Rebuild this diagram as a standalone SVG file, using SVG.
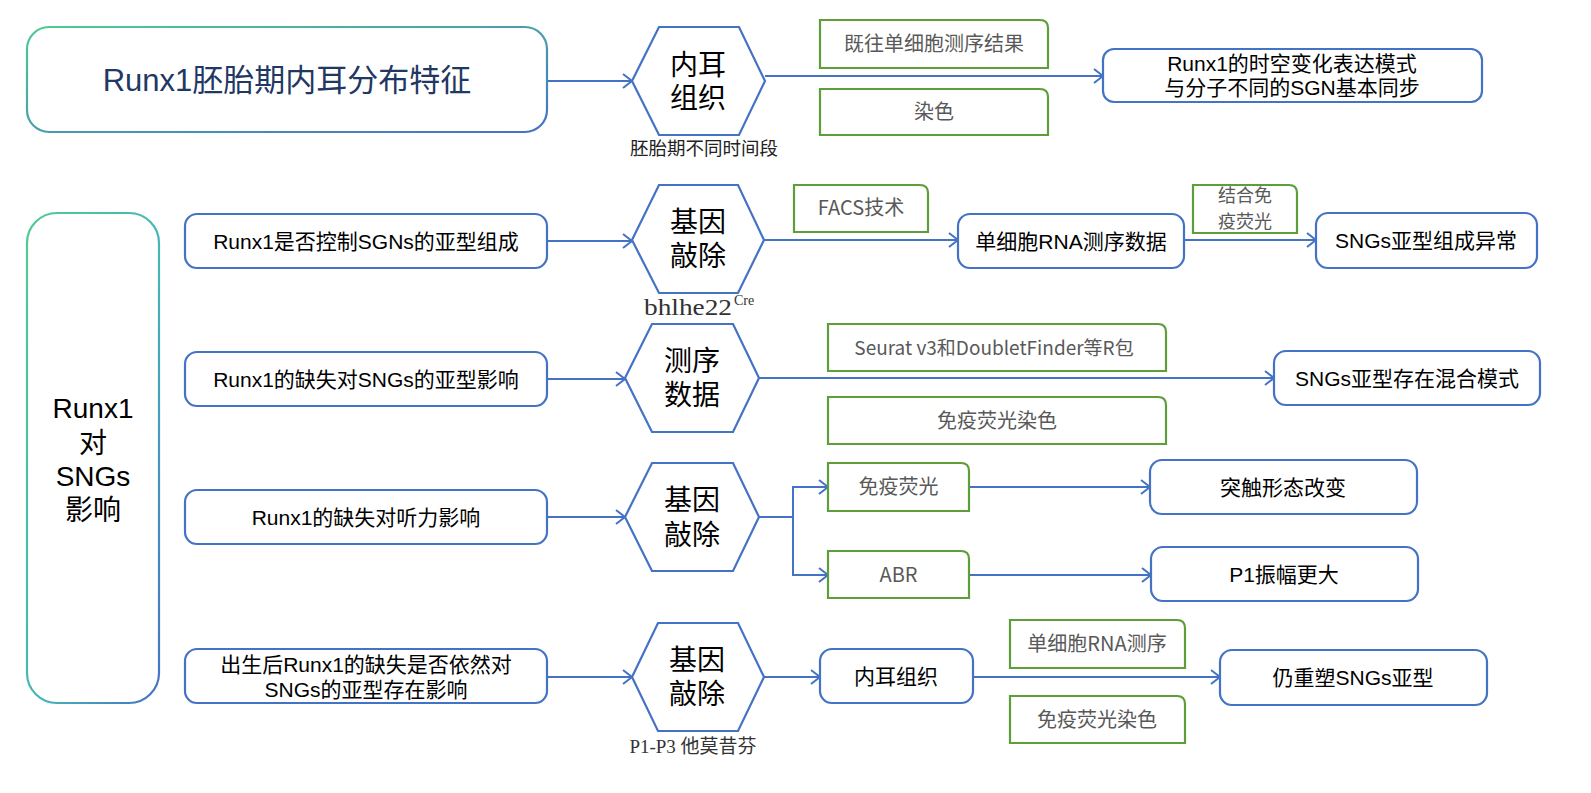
<svg xmlns="http://www.w3.org/2000/svg" width="1591" height="793" viewBox="0 0 1591 793">
<defs>
<linearGradient id="gTitle" x1="0" y1="0" x2="1" y2="1">
<stop offset="0" stop-color="#4FCB92"/>
<stop offset="1" stop-color="#4472C4"/>
</linearGradient>
<linearGradient id="gLeft" x1="0" y1="0" x2="1" y2="1">
<stop offset="0" stop-color="#4FCB92"/>
<stop offset="0.55" stop-color="#47B5B8"/>
<stop offset="1" stop-color="#4472C4"/>
</linearGradient>
<marker id="arr" markerUnits="userSpaceOnUse" markerWidth="14" markerHeight="18" refX="11" refY="9" orient="auto">
<path d="M2,2 L11,9 L2,16" fill="none" stroke="#4472C4" stroke-width="2"/>
</marker>
<style>
.blue{fill:#fff;stroke:#4472C4;stroke-width:2.2}
.green{fill:#fff;stroke:#5E9E3A;stroke-width:2.2}
.hex{fill:#fff;stroke:#4472C4;stroke-width:2.2}
.con{fill:none;stroke:#4472C4;stroke-width:2}
.t{font-family:"Liberation Sans","Noto Sans CJK SC",sans-serif;fill:#000;text-anchor:middle}
.tb{font-size:21px}
.th{font-size:28px}
.tg{font-family:"Noto Sans CJK SC",sans-serif;font-size:20px;fill:#595959;text-anchor:middle}
.ts{font-family:"Liberation Serif","Noto Sans CJK SC",serif;fill:#333;text-anchor:middle}
</style>
</defs>

<g id="connectors">
<line class="con" x1="547" y1="81" x2="632" y2="81" marker-end="url(#arr)"/>
<line class="con" x1="765" y1="76" x2="1103" y2="76" marker-end="url(#arr)"/>
<line class="con" x1="547" y1="241" x2="632" y2="241" marker-end="url(#arr)"/>
<line class="con" x1="547" y1="379" x2="625" y2="379" marker-end="url(#arr)"/>
<line class="con" x1="547" y1="517" x2="625" y2="517" marker-end="url(#arr)"/>
<line class="con" x1="547" y1="677" x2="632" y2="677" marker-end="url(#arr)"/>
<line class="con" x1="764" y1="240" x2="958" y2="240" marker-end="url(#arr)"/>
<line class="con" x1="1184" y1="240" x2="1316" y2="240" marker-end="url(#arr)"/>
<line class="con" x1="759" y1="378" x2="1274" y2="378" marker-end="url(#arr)"/>
<polyline class="con" points="759,517 793,517"/>
<polyline class="con" points="828,487 793,487 793,575 828,575"/>
<line class="con" x1="793" y1="487" x2="828" y2="487" marker-end="url(#arr)"/>
<line class="con" x1="793" y1="575" x2="828" y2="575" marker-end="url(#arr)"/>
<line class="con" x1="969" y1="487" x2="1150" y2="487" marker-end="url(#arr)"/>
<line class="con" x1="969" y1="575" x2="1151" y2="575" marker-end="url(#arr)"/>
<line class="con" x1="764" y1="677" x2="820" y2="677" marker-end="url(#arr)"/>
<line class="con" x1="973" y1="677" x2="1220" y2="677" marker-end="url(#arr)"/>
</g>

<g id="title">
<rect x="27" y="27" width="520" height="105" rx="22" fill="#fff" stroke="url(#gTitle)" stroke-width="2.2"/>
<text class="t" x="287" y="91" style="font-size:31px;fill:#1F3864">Runx1胚胎期内耳分布特征</text>
</g>

<g id="hex-ear">
<polygon class="hex" points="632,81 659,27 739,27 765,81 739,135 659,135"/>
<text class="t th" x="698" y="75">内耳</text>
<text class="t th" x="698" y="108">组织</text>
<text class="t" x="704" y="155" style="font-size:18.5px;fill:#222">胚胎期不同时间段</text>
</g>

<g id="g-prev">
<path class="green" d="M820,20 H1040 Q1048,20 1048,28 V68 H820 Z"/>
<text class="tg" x="934" y="51">既往单细胞测序结果</text>
</g>
<g id="g-stain">
<path class="green" d="M820,89 H1040 Q1048,89 1048,97 V135 H820 Z"/>
<text class="tg" x="934" y="119">染色</text>
</g>

<g id="res-top">
<rect class="blue" x="1103" y="49" width="379" height="53" rx="11"/>
<text class="t tb" x="1292" y="71">Runx1的时空变化表达模式</text>
<text class="t tb" x="1292" y="95">与分子不同的SGN基本同步</text>
</g>

<g id="left-box">
<rect x="27" y="213" width="132" height="490" rx="30" fill="#fff" stroke="url(#gLeft)" stroke-width="2.2"/>
<text class="t th" x="93" y="418">Runx1</text>
<text class="t th" x="93" y="453">对</text>
<text class="t th" x="93" y="486">SNGs</text>
<text class="t th" x="93" y="520">影响</text>
</g>

<g id="q1">
<rect class="blue" x="185" y="214" width="362" height="54" rx="12"/>
<text class="t tb" x="366" y="248.5">Runx1是否控制SGNs的亚型组成</text>
</g>
<g id="q2">
<rect class="blue" x="185" y="352" width="362" height="54" rx="12"/>
<text class="t tb" x="366" y="386.5">Runx1的缺失对SNGs的亚型影响</text>
</g>
<g id="q3">
<rect class="blue" x="185" y="490" width="362" height="54" rx="12"/>
<text class="t tb" x="366" y="524.5">Runx1的缺失对听力影响</text>
</g>
<g id="q4">
<rect class="blue" x="185" y="649" width="362" height="54" rx="12"/>
<text class="t tb" x="366" y="672">出生后Runx1的缺失是否依然对</text>
<text class="t tb" x="366" y="697">SNGs的亚型存在影响</text>
</g>

<g id="hex-ko1">
<polygon class="hex" points="632,240 659,185 738,185 764,240 738,293 659,293"/>
<text class="t th" x="698" y="232">基因</text>
<text class="t th" x="698" y="266">敲除</text>
<text class="ts" x="688" y="315" style="font-size:24px" textLength="88" lengthAdjust="spacingAndGlyphs">bhlhe22</text>
<text class="ts" x="744" y="305" style="font-size:14px">Cre</text>
</g>

<g id="g-facs">
<path class="green" d="M794,185 H920 Q928,185 928,193 V232 H794 Z"/>
<text class="tg" x="861" y="215">FACS技术</text>
</g>
<g id="scrna">
<rect class="blue" x="958" y="214" width="226" height="54" rx="12"/>
<text class="t tb" x="1071" y="248.5">单细胞RNA测序数据</text>
</g>
<g id="g-combine">
<path class="green" d="M1193,185 H1289 Q1297,185 1297,193 V233 H1193 Z"/>
<text class="tg" x="1245" y="202" style="font-size:18px">结合免</text>
<text class="tg" x="1245" y="228" style="font-size:18px">疫荧光</text>
</g>
<g id="res1">
<rect class="blue" x="1316" y="213" width="221" height="55" rx="12"/>
<text class="t tb" x="1426" y="248">SNGs亚型组成异常</text>
</g>

<g id="hex-seq">
<polygon class="hex" points="625,378 652,324 733,324 759,378 733,432 652,432"/>
<text class="t th" x="692" y="371">测序</text>
<text class="t th" x="692" y="405">数据</text>
</g>
<g id="g-seurat">
<path class="green" d="M828,324 H1158 Q1166,324 1166,332 V371 H828 Z"/>
<text class="tg" x="994" y="354.5" style="font-size:19px">Seurat v3和DoubletFinder等R包</text>
</g>
<g id="g-if1">
<path class="green" d="M828,397 H1158 Q1166,397 1166,405 V444 H828 Z"/>
<text class="tg" x="997" y="427.5">免疫荧光染色</text>
</g>
<g id="res2">
<rect class="blue" x="1274" y="351" width="266" height="54" rx="12"/>
<text class="t tb" x="1407" y="385.5">SNGs亚型存在混合模式</text>
</g>

<g id="hex-ko2">
<polygon class="hex" points="625,517 652,463 733,463 759,517 733,571 652,571"/>
<text class="t th" x="692" y="510">基因</text>
<text class="t th" x="692" y="545">敲除</text>
</g>
<g id="g-if2">
<path class="green" d="M828,463 H961 Q969,463 969,471 V511 H828 Z"/>
<text class="tg" x="898.5" y="494">免疫荧光</text>
</g>
<g id="g-abr">
<path class="green" d="M828,551 H961 Q969,551 969,559 V598 H828 Z"/>
<text class="tg" x="898.5" y="581.5">ABR</text>
</g>
<g id="res3a">
<rect class="blue" x="1150" y="460" width="267" height="54" rx="12"/>
<text class="t tb" x="1283" y="494.5">突触形态改变</text>
</g>
<g id="res3b">
<rect class="blue" x="1151" y="547" width="267" height="54" rx="12"/>
<text class="t tb" x="1284" y="581.5">P1振幅更大</text>
</g>

<g id="hex-ko3">
<polygon class="hex" points="632,677 658,623 738,623 764,677 738,731 658,731"/>
<text class="t th" x="697" y="670">基因</text>
<text class="t th" x="697" y="704">敲除</text>
<text class="ts" x="693" y="753" style="font-size:19px">P1-P3 他莫昔芬</text>
</g>
<g id="ear2">
<rect class="blue" x="820" y="649" width="153" height="54" rx="12"/>
<text class="t tb" x="896" y="683.5">内耳组织</text>
</g>
<g id="g-scrna2">
<path class="green" d="M1010,620 H1177 Q1185,620 1185,628 V668 H1010 Z"/>
<text class="tg" x="1097" y="651">单细胞RNA测序</text>
</g>
<g id="g-if3">
<path class="green" d="M1010,696 H1177 Q1185,696 1185,704 V743 H1010 Z"/>
<text class="tg" x="1097" y="726.5">免疫荧光染色</text>
</g>
<g id="res4">
<rect class="blue" x="1220" y="650" width="267" height="55" rx="12"/>
<text class="t tb" x="1353" y="684.5">仍重塑SNGs亚型</text>
</g>
</svg>
